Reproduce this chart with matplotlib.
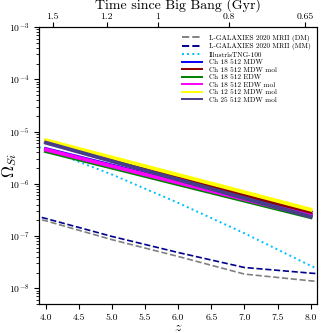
import numpy as np
import matplotlib
matplotlib.use('Agg')
import matplotlib.pyplot as plt

plt.rcParams['font.family'] = 'serif'
plt.rcParams['font.serif'] = ['cmr10']
plt.rcParams['mathtext.fontset'] = 'cm'
plt.rcParams['axes.formatter.use_mathtext'] = True

# ---- data ----
z_sam = [3.0, 4.0, 5.0, 6.0, 7.0, 8.0, 9.0]
lgal_dm = [3.9e-7, 1.95e-7, 8.5e-8, 4.06e-8, 1.87e-8, 1.39e-8, 1.1e-8]
lgal_mm = [4.6e-7, 2.16e-7, 9.8e-8, 4.83e-8, 2.5e-8, 1.95e-8, 1.6e-8]

z_tng = [3.0, 4.0, 5.0, 6.0, 7.0, 8.0, 9.0]
tng = [1.0e-5, 4.6e-6, 1.5e-6, 4.3e-7, 1.13e-7, 2.7e-8, 8.0e-9]

z_ch = [4.0, 5.0, 6.0, 7.0, 8.0]
ch18_mdw = [4.6e-6, 2.23e-6, 1.08e-6, 5.26e-7, 2.55e-7]
ch18_mdw_mol = [6.4e-6, 2.94e-6, 1.35e-6, 6.2e-7, 2.85e-7]
ch18_edw = [4.2e-6, 2.03e-6, 9.8e-7, 4.75e-7, 2.3e-7]
ch18_edw_mol = [4.5e-6, 2.17e-6, 1.05e-6, 5.07e-7, 2.45e-7]
ch12_mdw_mol = [6.8e-6, 3.17e-6, 1.48e-6, 6.9e-7, 3.2e-7]
ch25_mdw_mol = [6.1e-6, 2.70e-6, 1.20e-6, 5.3e-7, 2.35e-7]

age_ticks = [1.5, 1.2, 1.0, 0.8, 0.65]
age_labels = ['1.5', '1.2', '1', '0.8', '0.65']

# Planck15 flat LCDM, used only to place the top axis ticks
H0 = 67.74
Om = 0.3089
OL = 1.0 - Om
t_hubble = 977.8 / H0  # Gyr


def z_from_age(t):
    x = np.sqrt(Om / OL) * np.sinh(1.5 * np.sqrt(OL) * np.asarray(t) / t_hubble)
    return x ** (-2.0 / 3.0) - 1.0


fig = plt.figure(figsize=(3.23, 3.33), dpi=100)
ax = fig.add_axes([0.122, 0.087, 0.860, 0.832])

ax.plot(z_sam, lgal_dm, color='grey', ls='--', lw=1.2, label='L-GALAXIES 2020 MRII (DM)')
ax.plot(z_sam, lgal_mm, color='darkblue', ls='--', lw=1.2, label='L-GALAXIES 2020 MRII (MM)')
ax.plot(z_tng, tng, color='deepskyblue', ls=':', lw=1.4, label='IllustrisTNG-100')

ax.plot(z_ch, ch18_mdw, color='blue', lw=2.8, label='Ch 18 512 MDW')
ax.plot(z_ch, ch18_mdw_mol, color='darkred', lw=2.8, label='Ch 18 512 MDW mol')
ax.plot(z_ch, ch18_edw, color='green', lw=2.8, label='Ch 18 512 EDW')
ax.plot(z_ch, ch18_edw_mol, color='magenta', lw=2.8, label='Ch 18 512 EDW mol')
ax.plot(z_ch, ch12_mdw_mol, color='yellow', lw=2.8, label='Ch 12 512 MDW mol')
ax.plot(z_ch, ch25_mdw_mol, color='darkslateblue', lw=2.8, label='Ch 25 512 MDW mol')

ax.set_yscale('log')
ax.set_xlim(3.9, 8.1)
ax.set_ylim(5e-9, 1e-3)
ax.set_xticks([4.0, 4.5, 5.0, 5.5, 6.0, 6.5, 7.0, 7.5, 8.0])
ax.set_xticklabels(['4.0', '4.5', '5.0', '5.5', '6.0', '6.5', '7.0', '7.5', '8.0'])
ax.tick_params(labelsize=7)
ax.set_xlabel(r'$z$', fontsize=10)
ax.set_ylabel(r'$\Omega_{Si}$', fontsize=12)
ax.xaxis.set_label_coords(0.5, -0.065)
ax.yaxis.set_label_coords(-0.075, 0.5)

leg = ax.legend(loc='upper right', fontsize=5.2, frameon=False,
                handlelength=2.8, handletextpad=0.9, labelspacing=0.2,
                borderaxespad=0.5, bbox_to_anchor=(1.0, 0.995))
for line in leg.get_lines():
    line.set_linewidth(1.4)

top = ax.twiny()
top.set_xlim(ax.get_xlim())
top.set_xticks(z_from_age(age_ticks))
top.set_xticklabels(age_labels)
top.tick_params(labelsize=7, pad=1)
top.set_xlabel('Time since Big Bang (Gyr)', fontsize=10)
top.xaxis.set_label_coords(0.5, 1.065)

fig.savefig('out.png', dpi=100)
